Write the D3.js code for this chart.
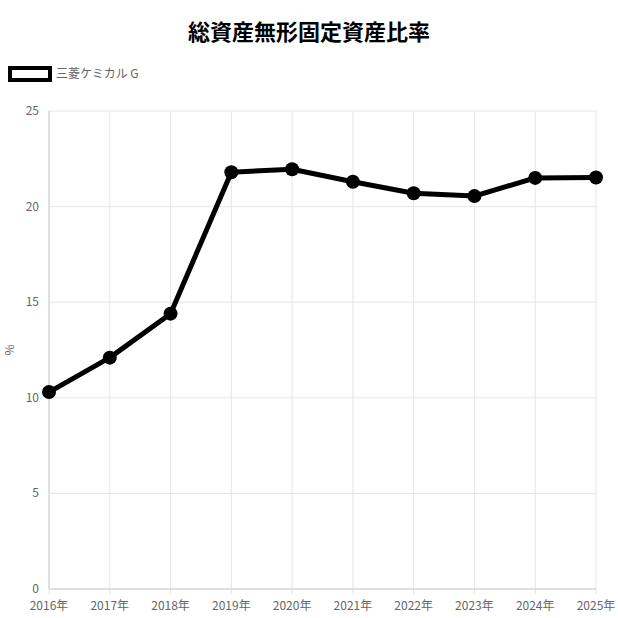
<!DOCTYPE html>
<html><head><meta charset="utf-8">
<script src="https://cdn.jsdelivr.net/npm/d3@7/dist/d3.min.js"></script>
<style>body{margin:0;background:#fff}</style></head>
<body><svg id="c" width="618" height="618"></svg>
<script>
const years=["2016年","2017年","2018年","2019年","2020年","2021年","2022年","2023年","2024年","2025年"];
const values=[10.3,12.1,14.4,21.8,21.95,21.3,20.7,20.55,21.5,21.52];
const yTicks=[0,5,10,15,20,25];
const seriesName="三菱ケミカル G";
const title="総資産無形固定資産比率";
const font="'Noto Sans CJK JP','Noto Sans',sans-serif";
const svg=d3.select("#c");
const L=49,R=596,T=111,B=589;
const x=d3.scalePoint().domain(years).range([L,R]);
const y=d3.scaleLinear().domain([0,25]).range([B,T]);
const g=svg.append("g");
g.selectAll(".gy").data(yTicks).join("line").attr("x1",L).attr("x2",R).attr("y1",d=>y(d)).attr("y2",d=>y(d)).attr("stroke","#e5e5e5");
g.selectAll(".gx").data(years).join("line").attr("x1",d=>x(d)).attr("x2",d=>x(d)).attr("y1",T).attr("y2",B+5).attr("stroke","#e5e5e5");
g.append("line").attr("x1",L).attr("x2",L).attr("y1",T).attr("y2",B).attr("stroke","#ccc");
g.append("line").attr("x1",L).attr("x2",R).attr("y1",B).attr("y2",B).attr("stroke","#ccc");
g.selectAll(".yl").data(yTicks).join("text").attr("x",L-10).attr("y",d=>y(d)+4).attr("text-anchor","end").attr("font-size",12).attr("fill","#666").attr("font-family",font).text(d=>d);
g.selectAll(".xl").data(years).join("text").attr("x",d=>x(d)).attr("y",B+21).attr("text-anchor","middle").attr("font-size",12).attr("fill","#666").attr("font-family",font).text(d=>d);
svg.append("text").attr("transform","translate(14,350) rotate(-90)").attr("text-anchor","middle").attr("font-size",12).attr("fill","#666").attr("font-family",font).text("%");
svg.append("text").attr("x",309).attr("y",40).attr("text-anchor","middle").attr("font-size",22).attr("font-weight","bold").attr("font-family",font).text(title);
svg.append("rect").attr("x",10).attr("y",68).attr("width",40).attr("height",12).attr("fill","#fff").attr("stroke","#000").attr("stroke-width",4);
svg.append("text").attr("x",56).attr("y",78).attr("font-size",12).attr("fill","#666").attr("font-family",font).text(seriesName);
const data=years.map((d,i)=>[d,values[i]]);
svg.append("path").datum(data).attr("d",d3.line().x(d=>x(d[0])).y(d=>y(d[1]))).attr("fill","none").attr("stroke","#000").attr("stroke-width",5).attr("stroke-linejoin","round");
svg.selectAll(".pt").data(data).join("circle").attr("cx",d=>x(d[0])).attr("cy",d=>y(d[1])).attr("r",7).attr("fill","#000");
</script></body></html>
